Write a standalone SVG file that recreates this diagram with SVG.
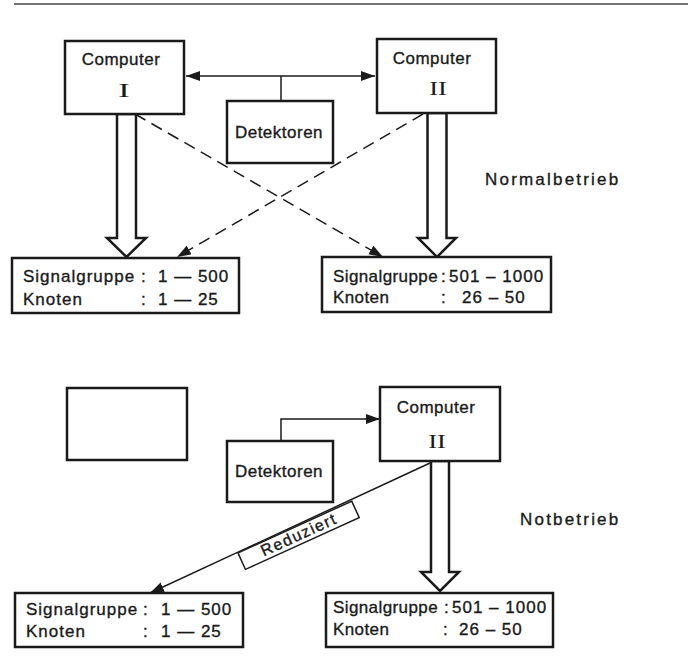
<svg xmlns="http://www.w3.org/2000/svg" width="693" height="657" viewBox="0 0 693 657">
<style>
.box{fill:#fff;stroke:#1a1a1a;stroke-width:2.5}
.ln{fill:none;stroke:#1a1a1a;stroke-width:1.5}
.dash{fill:none;stroke:#1a1a1a;stroke-width:1.5;stroke-dasharray:12 7}
.hollow{fill:#fff;stroke:#1a1a1a;stroke-width:2.5;stroke-linejoin:miter}
text{font-family:"Liberation Sans",Arial,sans-serif;fill:#1a1a1a;stroke:#1a1a1a;stroke-width:0.35}
.t{font-size:17px;letter-spacing:0.5px}
.s{font-size:17px;letter-spacing:1px}
.sn{font-size:17px;letter-spacing:0.4px}
.r{font-family:"Liberation Serif","Times New Roman",serif;font-size:19px;stroke:none}
.m{font-size:17px;letter-spacing:2.2px}
</style>
<defs>
<marker id="ah" markerUnits="userSpaceOnUse" markerWidth="16" markerHeight="12" refX="14" refY="5" orient="auto-start-reverse">
<path d="M0,0 L14,5 L0,10 z" fill="#1a1a1a"/>
</marker>
</defs>
<rect width="693" height="657" fill="#fff"/>
<line x1="14" y1="4" x2="688" y2="4" stroke="#444" stroke-width="1.5"/>

<g id="connectors">
<line class="ln" x1="186" y1="76" x2="375" y2="76" marker-start="url(#ah)" marker-end="url(#ah)"/>
<line class="ln" x1="281" y1="76" x2="281" y2="101"/>
<line class="dash" x1="135" y1="114" x2="383" y2="257" marker-end="url(#ah)"/>
<line class="dash" x1="423" y1="114" x2="177" y2="257" marker-end="url(#ah)"/>
<polygon class="hollow" points="117,114 136,114 136,238 146,238 126.5,257 107,238 117,238"/>
<polygon class="hollow" points="427.5,113 446.5,113 446.5,238 456,238 437,257 418,238 427.5,238"/>
<polyline class="ln" points="281,441 281,419 380,419" marker-end="url(#ah)"/>
<line class="ln" x1="430" y1="463" x2="150" y2="593" marker-end="url(#ah)"/>
<polygon class="hollow" points="431,461 449,461 449,572 459,572 440,591 421,572 431,572"/>
<g id="label-reduziert" transform="translate(238,553) rotate(-24.5)">
<rect x="0" y="0" width="125" height="18" fill="#fff" stroke="#1a1a1a" stroke-width="1.5"/>
<text x="63" y="14" font-size="16" letter-spacing="1.5" text-anchor="middle">Reduziert</text>
</g>
</g>

<g id="computer1">
<rect class="box" x="65" y="41" width="119" height="73"/>
<text class="t" x="121" y="65" text-anchor="middle">Computer</text>
<text class="r" transform="translate(124,97) scale(1.8,1)" text-anchor="middle">I</text>
</g>
<g id="computer2">
<rect class="box" x="377" y="39" width="119" height="74"/>
<text class="t" x="432" y="64" text-anchor="middle">Computer</text>
<text class="r" transform="translate(438,95) scale(1.4,1)" text-anchor="middle">II</text>
</g>
<g id="detektoren1">
<rect class="box" x="227" y="101" width="106" height="62"/>
<text class="t" x="279" y="138" text-anchor="middle">Detektoren</text>
</g>
<g id="signal1">
<rect class="box" x="12" y="258" width="227" height="55"/>
<text class="s" x="23" y="282">Signalgruppe</text>
<text class="s" x="141" y="282">:</text>
<text class="s" x="158" y="282">1 — 500</text>
<text class="s" x="23" y="305">Knoten</text>
<text class="s" x="141" y="305">:</text>
<text class="s" x="158" y="305">1 — 25</text>
</g>
<g id="signal2">
<rect class="box" x="322" y="257" width="229" height="55"/>
<text class="sn" x="333" y="282">Signalgruppe</text>
<text class="s" x="441" y="282">:</text>
<text class="s" x="449" y="282">501 – 1000</text>
<text class="sn" x="333" y="303">Knoten</text>
<text class="s" x="441" y="303">:</text>
<text class="s" x="462" y="303">26 – 50</text>
</g>
<text id="normalbetrieb" class="m" x="485" y="185">Normalbetrieb</text>

<g id="computer1-off">
<rect class="box" x="67" y="388" width="120" height="72"/>
</g>
<g id="computer2b">
<rect class="box" x="380" y="387" width="120" height="74"/>
<text class="t" x="436" y="413" text-anchor="middle">Computer</text>
<text class="r" transform="translate(437,448) scale(1.4,1)" text-anchor="middle">II</text>
</g>
<g id="detektoren2">
<rect class="box" x="227" y="441" width="106" height="61"/>
<text class="t" x="279" y="477" text-anchor="middle">Detektoren</text>
</g>
<g id="signal3">
<rect class="box" x="15" y="593" width="228" height="54"/>
<text class="s" x="26" y="615">Signalgruppe</text>
<text class="s" x="143" y="615">:</text>
<text class="s" x="161" y="615">1 — 500</text>
<text class="s" x="26" y="637">Knoten</text>
<text class="s" x="143" y="637">:</text>
<text class="s" x="161" y="637">1 — 25</text>
</g>
<g id="signal4">
<rect class="box" x="326" y="593" width="227" height="54"/>
<text class="sn" x="333" y="613">Signalgruppe</text>
<text class="s" x="444" y="613">:</text>
<text class="s" x="452" y="613">501 – 1000</text>
<text class="sn" x="333" y="635">Knoten</text>
<text class="s" x="443" y="635">:</text>
<text class="s" x="459" y="635">26 – 50</text>
</g>
<text id="notbetrieb" class="m" x="520" y="525">Notbetrieb</text>
</svg>
